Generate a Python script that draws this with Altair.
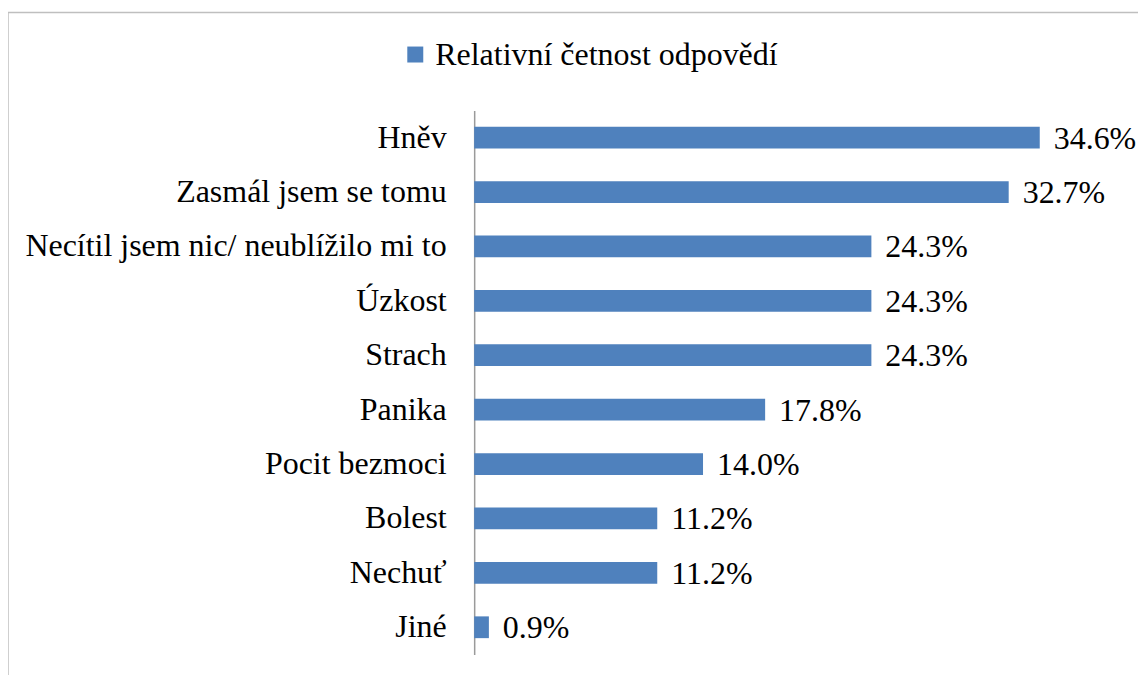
import altair as alt
import pandas as pd

categories = ["Hněv", "Zasmál jsem se tomu", "Necítil jsem nic/ neublížilo mi to",
              "Úzkost", "Strach", "Panika", "Pocit bezmoci", "Bolest", "Nechuť", "Jiné"]
values = [34.6, 32.7, 24.3, 24.3, 24.3, 17.8, 14.0, 11.2, 11.2, 0.9]
series_name = "Relativní četnost odpovědí"

df = pd.DataFrame({"cat": categories, "val": values, "series": series_name})
df["label"] = df["val"].map(lambda v: f"{v:.1f}%")

FONT = "'Liberation Serif', 'Times New Roman', serif"
FS = 32

y_enc = alt.Y("cat:N", sort=categories, title=None,
              scale=alt.Scale(paddingInner=0.6, paddingOuter=0.3),
              axis=alt.Axis(labelFont=FONT, labelFontSize=FS, labelColor="black",
                            labelPadding=28, ticks=False, domainColor="#9a9a9a",
                            domainWidth=1.5, labelLimit=600))
x_enc = alt.X("val:Q", scale=alt.Scale(domain=[0, 40]), axis=None)

bars = alt.Chart(df).mark_bar(color="#4F81BD").encode(
    x=x_enc, y=y_enc,
    color=alt.Color("series:N", scale=alt.Scale(range=["#4F81BD"]),
                    legend=alt.Legend(title=None, orient="none", legendX=-75, legendY=-72,
                                      symbolType="square", symbolSize=256,
                                      labelFont=FONT, labelFontSize=FS, labelColor="black",
                                      labelOffset=4, labelLimit=1000))
)

text = alt.Chart(df).mark_text(align="left", baseline="middle", dx=14, dy=1,
                               font=FONT, fontSize=FS, color="black").encode(
    x="val:Q", y=alt.Y("cat:N", sort=categories), text="label:N")

border = alt.Chart(pd.DataFrame({"a": [0]})).mark_rect(
    fill=None, stroke="#bfbfbf", strokeWidth=1.5).encode(
    x=alt.value(-467), x2=alt.value(700), y=alt.value(-98), y2=alt.value(620))

chart = alt.layer(border, bars, text).properties(
    width=655, height=545,
    autosize=alt.AutoSizeParams(type="none"),
    padding={"left": 467, "top": 102, "right": 10, "bottom": 40},
).configure_view(stroke=None)

chart.save("out.html", embed_options={"renderer": "svg", "actions": False})
